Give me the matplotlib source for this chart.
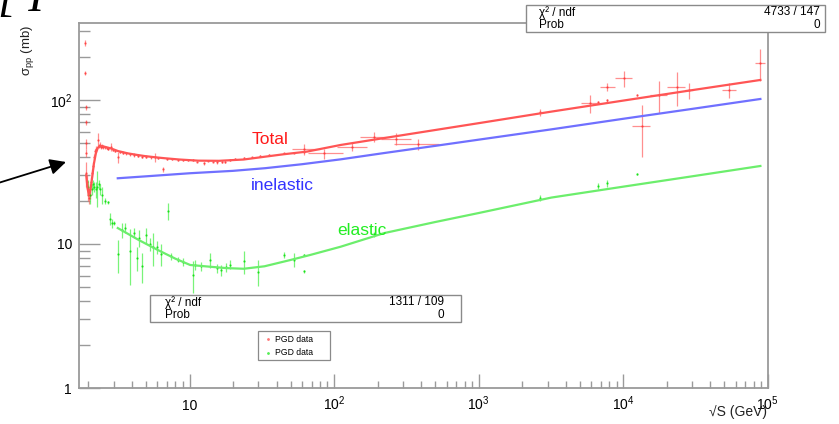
import numpy as np
import matplotlib
matplotlib.use('Agg')
import matplotlib.pyplot as plt
from matplotlib.patches import Rectangle
from matplotlib.ticker import LogLocator, FixedLocator, NullFormatter

plt.rcParams['font.family'] = ['Liberation Sans', 'DejaVu Sans']
plt.rcParams['mathtext.fontset'] = 'custom'
plt.rcParams['mathtext.rm'] = 'Liberation Sans'
plt.rcParams['mathtext.it'] = 'Liberation Sans:italic'

# ---------------- fitted curves ----------------
total_x = [1.93, 1.97, 2.01, 2.04, 2.08, 2.13, 2.18, 2.25, 2.32, 2.40, 2.55, 2.86, 3.2, 3.74, 4.3,
           4.89, 5.8, 6.73, 8.5, 11.5, 16, 23.7, 33.4, 45, 65, 111, 200, 400, 1000, 3184, 10000,
           30000, 89000]
total_y = [30, 24.5, 22, 22.5, 25, 30, 36, 42.6, 46.5, 47.9, 47.5, 46.1, 44.2, 42.6, 41.6,
           40.8, 40.0, 39.4, 38.6, 37.9, 37.8, 38.6, 40.4, 42, 43.8, 48.7, 53.5, 59.7, 69, 83, 99,
           117, 137.7]

inel_x = [3.19, 5, 10.1, 20, 33.4, 60, 111, 222, 500, 1000, 3184, 10000, 30000, 89000]
inel_y = [28.6, 29.5, 31.0, 32.2, 33.6, 35.8, 38.7, 42.8, 48.0, 53.0, 62.5, 74, 86.7, 101.6]

el_x = [3.19, 4.5, 6.04, 8, 10.1, 13.9, 18, 23.7, 33, 49.9, 68.7, 111, 222, 500, 1000, 3184,
        10000, 30000, 89000]
el_y = [12.9, 10.6, 9.08, 7.9, 7.15, 6.95, 6.8, 6.73, 7.0, 7.74, 8.4, 9.57, 11.9, 14.2, 16.4,
        21, 25.0, 29.5, 34.8]

# ---------------- PDG total cross-section data ----------------
red_x = [1.90, 1.90, 1.91, 1.91, 1.92, 1.93, 1.93,
         1.96, 1.98, 2.00, 2.02, 2.04, 2.06, 2.09, 2.12, 2.15, 2.19, 2.23, 2.27, 2.31, 2.35,
         2.39, 2.43, 2.48, 2.54, 2.60, 2.67, 2.75, 2.86, 2.95, 3.05, 3.18, 3.3, 3.45, 3.65,
         3.85, 4.1, 4.4, 4.7, 5.0, 5.4, 5.73, 6.1, 6.55, 7.0, 7.6, 8.3, 9.0, 9.8, 10.6,
         11.2, 12.5, 13.5, 14.6, 15.4, 16.7, 17.7, 19.1, 20.7, 23.7, 27.0, 30.9, 35.3, 44.8,
         52.6, 62.3,
         61.7, 84.9, 134, 189, 267, 378,
         2640, 5940, 6730, 7680, 7680, 10200, 12400, 13400, 17700, 23500, 28400, 53700, 89100]
red_y = [249, 154, 89, 70, 50, 43, 31,
         27, 24, 22, 21, 22, 24, 27, 31, 35, 40, 44, 46, 53, 48,
         49, 47, 48, 47, 47, 46.5, 46, 47, 45, 44.5, 40, 43.5, 43, 42.5,
         42, 41.5, 41, 40.5, 40.5, 40, 40, 39.5, 33, 39, 39, 38.5, 38.5, 38.3, 38.2,
         37.3, 36.3, 37.9, 37.3, 36.9, 37.3, 37.3, 38.3, 38.7, 39.7, 40.0, 41.0, 41.5, 42.6,
         43.1, 43.6,
         45.5, 42.6, 47.4, 55.5, 54, 49.4,
         82, 94.8, 96.4, 99.5, 123.7, 141.6, 108, 65.9, 108, 123.7, 117, 117, 180]
red_ey = [12, 6, 4, 3, 4, 3, 6,
          3, 2, 2, 2, 1.5, 2, 2, 2, 2, 2, 2, 2, 6, 1.5,
          2, 1.5, 1.5, 1.5, 1, 1, 1, 3, 1, 1, 3.5, 1, 1, 1,
          1, 1.5, 1, 1, 1, 1, 3, 0.8, 1.3, 0.8, 0.8, 0.6, 0.6, 0.5, 0.5,
          0.5, 0.7, 0.5, 0.5, 1.0, 0.8, 1.0, 0.4, 0.6, 0.4, 0.5, 0.3, 0.4, 0.4,
          0.4, 0.3,
          4.3, 3.4, 3.1, 4.5, 5, 4.6,
          4, 14, 1.5, 2, 8, 18, 2, 26, 27, 33, 15, 14, 45]
red_xlo = [1.90, 1.90, 1.91, 1.91, 1.92, 1.93, 1.93,
           1.96, 1.98, 2.00, 2.02, 2.04, 2.06, 2.09, 2.12, 2.15, 2.19, 2.23, 2.27, 2.31, 2.35,
           2.39, 2.43, 2.48, 2.54, 2.60, 2.67, 2.75, 2.86, 2.95, 3.05, 3.18, 3.3, 3.45, 3.65,
           3.85, 4.1, 4.4, 4.7, 5.0, 5.4, 5.73, 6.1, 6.55, 7.0, 7.6, 8.3, 9.0, 9.8, 10.6,
           11.2, 12.5, 13.5, 14.6, 15.4, 16.7, 17.7, 19.1, 20.7, 23.7, 27.0, 30.9, 35.3, 44.8,
           52.6, 62.3,
           51.3, 66.5, 105, 151, 210, 260,
           2640, 5070, 6730, 7680, 6870, 8770, 12400, 11600, 15400, 20000, 26600, 48300, 81900]
red_xhi = [1.90, 1.90, 1.91, 1.91, 1.92, 1.93, 1.93,
           1.96, 1.98, 2.00, 2.02, 2.04, 2.06, 2.09, 2.12, 2.15, 2.19, 2.23, 2.27, 2.31, 2.35,
           2.39, 2.43, 2.48, 2.54, 2.60, 2.67, 2.75, 2.86, 2.95, 3.05, 3.18, 3.3, 3.45, 3.65,
           3.85, 4.1, 4.4, 4.7, 5.0, 5.4, 5.73, 6.1, 6.55, 7.0, 7.6, 8.3, 9.0, 9.8, 10.6,
           11.2, 12.5, 13.5, 14.6, 15.4, 16.7, 17.7, 19.1, 20.7, 23.7, 27.0, 30.9, 35.3, 44.8,
           52.6, 62.3,
           80.5, 116, 170, 240, 340, 535,
           2640, 6870, 6730, 7680, 8770, 11600, 12400, 15300, 20000, 26600, 30500, 60400, 95500]

# ---------------- PDG elastic cross-section data ----------------
grn_x = [2.0, 2.05, 2.1, 2.15, 2.2, 2.25, 2.3, 2.35, 2.4, 2.5, 2.6, 2.72, 2.8, 2.9, 3.0,
         3.18, 3.4, 3.6, 3.85, 4.1, 4.3, 4.5, 4.7, 5.0, 5.3, 5.6, 6.0, 6.4, 7.08, 7.5, 8.3,
         9.0, 10.6, 11.0, 12.0, 13.9, 15.5, 16.5, 18.0, 19.0, 23.7, 30.0, 44.8, 52.6, 61.7,
         61.7, 189, 2640, 6730, 7680, 12400]
grn_y = [25, 22, 24, 26, 25, 24, 25, 26, 24, 22, 20, 19.5, 15, 14, 14,
         8.5, 12.5, 13, 9.0, 12, 8.0, 11, 7.0, 11.5, 10, 9.5, 9.5, 8.5, 17, 8.2, 7.8,
         7.5, 6.1, 7.2, 7.0, 7.7, 6.8, 6.6, 6.9, 7.2, 7.6, 6.4, 8.45, 7.8, 8.4,
         6.45, 11.7, 20.8, 25.2, 26.4, 30.6]
grn_ey = [3, 3, 2, 2, 2, 3, 7, 2, 2, 3, 1, 0.5, 1.5, 1, 0.5,
          2.2, 1.5, 1, 3.8, 1, 1.5, 1.5, 1.6, 1.5, 1, 2.5, 1, 1.5, 2.3, 0.5, 0.3,
          0.5, 1.5, 0.6, 0.5, 0.9, 0.5, 0.6, 0.5, 0.5, 1.4, 1.3, 0.4, 0.9, 0.15,
          0.15, 0.5, 1.0, 1.2, 1.5, 0.5]

# ---------------- stats / labels ----------------
stat_total = ["χ² / ndf", "4733 / 147", "Prob", "0"]
stat_el = ["χ² / ndf", "1311 / 109", "Prob", "0"]
legend_labels = ["PGD data", "PGD data"]

W, H = 839, 424
fig = plt.figure(figsize=(W / 100, H / 100), dpi=100)
fig.patch.set_facecolor('white')


def fx(px):
    return px / W


def fy(py):
    return 1 - py / H


ax = fig.add_axes([fx(79), fy(388), (768 - 79) / W, (388 - 22.7) / H])
ax.set_xscale('log')
ax.set_yscale('log')
ax.set_xlim(1.72, 1.005e5)
ax.set_ylim(1, 344)

frame_col = '#9a9a9a'
for s in ax.spines.values():
    s.set_color(frame_col)
    s.set_linewidth(1.3)

# data
rx = np.array(red_x)
xerr = [rx - np.array(red_xlo), np.array(red_xhi) - rx]
ax.errorbar(red_x, red_y, yerr=red_ey, xerr=xerr, fmt='.', ms=1.3, color='#ff3030',
            ecolor='#ff6060', elinewidth=0.9, capsize=0, alpha=0.7, zorder=3)
ax.errorbar(grn_x, grn_y, yerr=grn_ey, fmt='.', ms=1.3, color='#00dd00',
            ecolor='#40ee40', elinewidth=0.9, capsize=0, alpha=0.7, zorder=3)

# fits
ax.plot(total_x, total_y, color='#ff5555', lw=1.6, zorder=4)
ax.plot(inel_x, inel_y, color='#7070ff', lw=1.6, zorder=4)
ax.plot(el_x, el_y, color='#6cee6c', lw=1.6, zorder=4)

# ticks
ax.xaxis.set_major_locator(FixedLocator([10, 100, 1e3, 1e4, 1e5]))
ax.set_xticklabels(['10', '$10^{2}$', '$10^{3}$', '$10^{4}$', '$10^{5}$'])
ax.xaxis.set_minor_locator(LogLocator(base=10, subs=np.arange(2, 10), numticks=20))
ax.xaxis.set_minor_formatter(NullFormatter())
ax.yaxis.set_major_locator(FixedLocator([1, 10, 100]))
ax.set_yticklabels(['1', '10', '$10^{2}$'])
ax.yaxis.set_minor_locator(LogLocator(base=10, subs=np.arange(2, 10), numticks=20))
ax.yaxis.set_minor_formatter(NullFormatter())

ax.tick_params(axis='x', which='major', direction='in', length=10, width=1, color=frame_col,
               labelsize=10, pad=15.5, top=False)
ax.tick_params(axis='x', which='minor', direction='in', length=5, width=1, color=frame_col, top=False)
ax.tick_params(axis='y', which='major', direction='in', length=15, width=1, color=frame_col,
               labelsize=10, pad=5, right=False)
ax.tick_params(axis='y', which='minor', direction='in', length=8, width=1, color=frame_col, right=False)
for lab in ax.get_xticklabels():
    lab.set_va('baseline')

# curve labels
fig.text(fx(270), fy(140), 'Total', color='#ff1a1a', fontsize=12.5, ha='center', va='center')
fig.text(fx(282), fy(185), 'inelastic', color='#3333ff', fontsize=12.5, ha='center', va='center')
fig.text(fx(362), fy(231), 'elastic', color='#22ee22', fontsize=12.5, ha='center', va='center')

# axis titles
fig.text(fx(28), fy(50), '$\\mathrm{\\sigma}_{\\mathrm{pp}}$ (mb)', rotation=90,
         fontsize=9.5, ha='center', va='center', color='#222222')
fig.text(fx(767), fy(412), '√S (GeV)', fontsize=10, ha='right', va='center', color='#222222')


def stat_box(x0, y0, x1, y1, texts, fs=8.5, lx=None, rx_=None):
    fig.patches.append(Rectangle((fx(x0), fy(y1)), (x1 - x0) / W, (y1 - y0) / H,
                                 transform=fig.transFigure, facecolor='white',
                                 edgecolor='#8a8a8a', lw=1.0, zorder=10))
    ym1 = y0 + (y1 - y0) * 0.27
    ym2 = y0 + (y1 - y0) * 0.74
    fig.text(fx(lx), fy(ym1), texts[0], fontsize=fs, ha='left', va='center', zorder=11)
    fig.text(fx(rx_), fy(ym1), texts[1], fontsize=fs, ha='right', va='center', zorder=11)
    fig.text(fx(lx), fy(ym2), texts[2], fontsize=fs, ha='left', va='center', zorder=11)
    fig.text(fx(rx_), fy(ym2), texts[3], fontsize=fs, ha='right', va='center', zorder=11)


stat_box(526, 5, 825, 32, stat_total, lx=539, rx_=820)
stat_box(150, 295, 461, 322, stat_el, lx=165, rx_=444)

# legend
fig.patches.append(Rectangle((fx(258), fy(360)), 72 / W, 29 / H, transform=fig.transFigure,
                             facecolor='white', edgecolor='#8a8a8a', lw=0.9, zorder=10))
fig.lines.append(plt.Line2D([fx(267.5)], [fy(339)], marker='.', ms=2.0, color='#ff7777',
                            transform=fig.transFigure, zorder=11))
fig.lines.append(plt.Line2D([fx(267.5)], [fy(352.5)], marker='.', ms=2.0, color='#55ee55',
                            transform=fig.transFigure, zorder=11))
fig.text(fx(275), fy(339), legend_labels[0], fontsize=6.2, ha='left', va='center', zorder=11)
fig.text(fx(275), fy(352.5), legend_labels[1], fontsize=6.2, ha='left', va='center', zorder=11)

# arrow from the left
ax.annotate('', xy=(66, H - 162), xycoords='figure pixels',
            xytext=(-5, H - 184), textcoords='figure pixels',
            arrowprops=dict(arrowstyle='-|>', mutation_scale=24, color='black', lw=1.3,
                            shrinkA=0, shrinkB=0), annotation_clip=False)

# partially visible title text at the top-left corner
fig.text(fx(-2), fy(11), '[ I', fontsize=34, family='Liberation Serif', style='italic',
         ha='left', va='baseline')

fig.savefig('out.png', dpi=100)
